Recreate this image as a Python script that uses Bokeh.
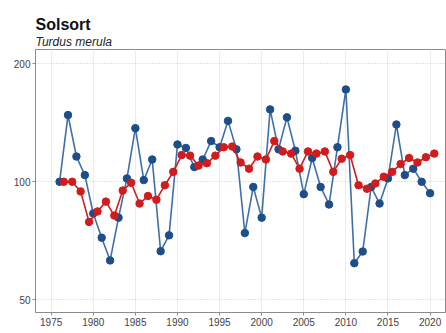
from bokeh.plotting import figure
from bokeh.models import ColumnDataSource, FixedTicker, Title, Range1d
from bokeh.transform import dodge
from bokeh.embed import file_html
from bokeh.resources import INLINE

years = list(range(1976, 2021))
index_values = [100, 148, 116, 104, 83, 72, 63, 81, 102, 137,
                101, 114, 66.5, 73, 124.5, 122, 109, 114, 127, 122.5,
                143, 121, 74, 97, 81, 153, 121, 146, 120, 93,
                115, 97, 87.5, 122.5, 172, 62, 66.4, 97, 88, 102,
                140, 104, 108, 100, 93.5]
trend_values = [100, 100, 94.5, 79, 84, 89, 82, 95, 99.4, 88,
                92, 90, 98, 106, 117, 116.6, 110, 111.5, 116.6, 122.5,
                123, 112, 108, 116, 114, 127, 119.5, 118, 108, 119.5,
                118, 119.5, 106, 114.5, 117, 98, 96, 99, 103, 106,
                111, 115, 112, 115.5, 118]
y_ticks = [50, 100, 200]
x_ticks = list(range(1975, 2021, 5))

src = ColumnDataSource(dict(year=years, idx=index_values, trend=trend_values))

p = figure(width=446, height=333, y_axis_type="log",
           output_backend="svg", toolbar_location=None,
           x_range=Range1d(1973.14, 2021.83), y_range=Range1d(46.4, 217.5),
           min_border_left=35, min_border_right=1, min_border_bottom=21, min_border_top=49)

p.title.text = "Solsort"
p.title.text_font = "Liberation Sans"
p.title.text_font_style = "bold"
p.title.text_font_size = "16px"
p.title.text_color = "#111111"
p.title.standoff = 0
p.add_layout(Title(text="Turdus merula", text_font="Liberation Sans", text_font_style="italic",
                   text_font_size="12px", text_color="#222222", standoff=1), "above")

blue_line = "#3f6fa8"
blue_pt = "#1d4e8a"
red = "#d01c1c"

p.line("year", "idx", source=src, line_color=blue_line, line_width=1.6)
p.scatter("year", "idx", source=src, size=7.5, fill_color=blue_pt, line_color=blue_pt)
p.line(dodge("year", 0.5), "trend", source=src, line_color=red, line_width=1.6)
p.scatter(dodge("year", 0.5), "trend", source=src, size=7.5, fill_color=red, line_color=red)

p.yaxis.ticker = FixedTicker(ticks=y_ticks, minor_ticks=[])
p.xaxis.ticker = FixedTicker(ticks=x_ticks, minor_ticks=[])
for ax in (p.xaxis, p.yaxis):
    ax.axis_line_color = "#8c8c8c"
    ax.major_tick_line_color = "#8c8c8c"
    ax.major_tick_out = 3
    ax.major_tick_in = 0
    ax.minor_tick_line_color = None
    ax.major_label_text_font = "Liberation Sans"
    ax.major_label_text_font_size = "10px"
    ax.major_label_text_color = "#444444"
    ax.major_label_standoff = 2

p.xgrid.grid_line_color = "#ececec"
p.xgrid.grid_line_width = 1
p.ygrid.grid_line_color = "#c8c8c8"
p.ygrid.grid_line_dash = "1 2"
p.outline_line_color = "#8c8c8c"
p.outline_line_width = 1
p.background_fill_color = "white"
p.border_fill_color = "white"

open("out.html", "w").write(file_html(p, INLINE))
